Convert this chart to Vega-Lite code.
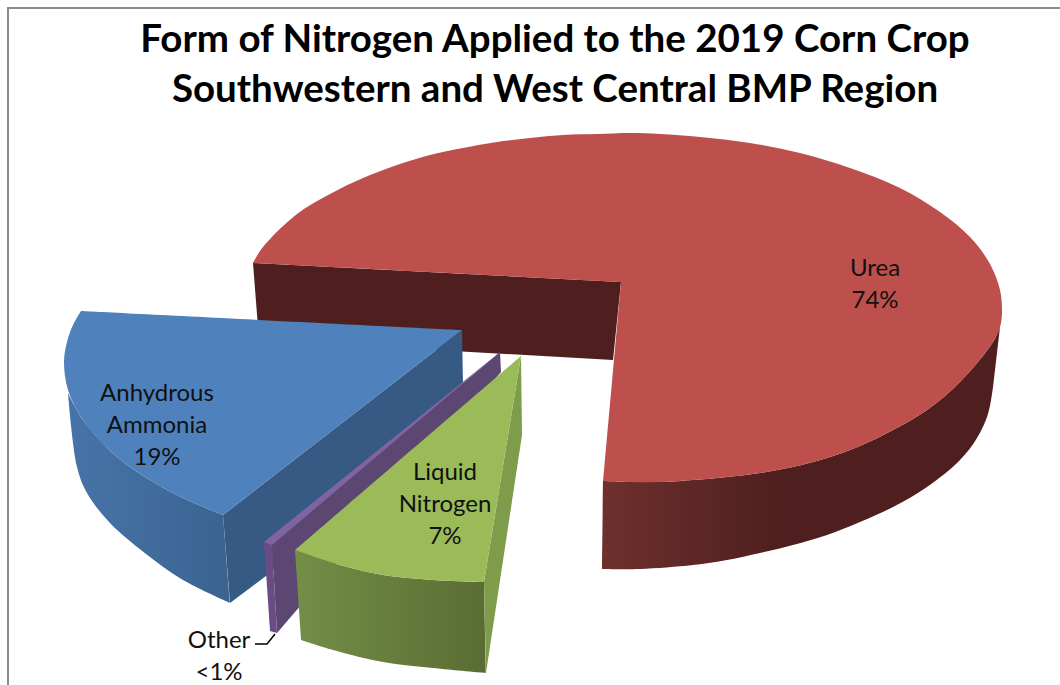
{
"$schema":"https://vega.github.io/schema/vega-lite/v6.json",
"width":1060,"height":685,"padding":0,"autosize":{"type":"none"},
"background":"white",
"view":{"stroke":null},
"title":{"text":["Form of Nitrogen Applied to the 2019 Corn Crop","Southwestern and West Central BMP Region"],"orient":"top","anchor":"middle","dx":25,"offset":-110,"font":"Lato","fontWeight":"bold","fontSize":38.5,"lineHeight":50,"color":"#000000"},
"datasets":{
"outline":[
{"face":"urea_side","i":0,"x":1000,"y":327},{"face":"urea_side","i":0.5,"x":1000,"y":327},{"face":"urea_side","i":1,"x":993,"y":342},{"face":"urea_side","i":2,"x":960,"y":382},{"face":"urea_side","i":3,"x":927,"y":410},{"face":"urea_side","i":4,"x":893,"y":430},{"face":"urea_side","i":5,"x":860,"y":446},{"face":"urea_side","i":6,"x":827,"y":458},{"face":"urea_side","i":7,"x":793,"y":467},{"face":"urea_side","i":8,"x":760,"y":473},{"face":"urea_side","i":9,"x":727,"y":477},{"face":"urea_side","i":10,"x":693,"y":480},{"face":"urea_side","i":11,"x":660,"y":482},{"face":"urea_side","i":12,"x":603,"y":481},{"face":"urea_side","i":12.5,"x":603,"y":481},{"face":"urea_side","i":13,"x":602,"y":569},{"face":"urea_side","i":13.5,"x":602,"y":569},{"face":"urea_side","i":14,"x":640,"y":569},{"face":"urea_side","i":15,"x":693,"y":565},{"face":"urea_side","i":16,"x":727,"y":560},{"face":"urea_side","i":17,"x":760,"y":553},{"face":"urea_side","i":18,"x":793,"y":545},{"face":"urea_side","i":19,"x":827,"y":535},{"face":"urea_side","i":20,"x":860,"y":522},{"face":"urea_side","i":21,"x":893,"y":507},{"face":"urea_side","i":22,"x":927,"y":487},{"face":"urea_side","i":23,"x":960,"y":460},{"face":"urea_side","i":24,"x":977,"y":438},{"face":"urea_side","i":25,"x":988,"y":414},{"face":"urea_side","i":26,"x":993,"y":387},{"face":"urea_side","i":26.5,"x":993,"y":387},
{"face":"urea_wall","i":0,"x":253,"y":263},{"face":"urea_wall","i":1,"x":621,"y":282},{"face":"urea_wall","i":2,"x":613,"y":360},{"face":"urea_wall","i":3,"x":259,"y":340},
{"face":"urea_top","i":0,"x":621,"y":282},{"face":"urea_top","i":0.5,"x":621,"y":282},{"face":"urea_top","i":1,"x":253,"y":263},{"face":"urea_top","i":1.5,"x":253,"y":263},{"face":"urea_top","i":2,"x":263,"y":247},{"face":"urea_top","i":3,"x":297,"y":214},{"face":"urea_top","i":4,"x":330,"y":194},{"face":"urea_top","i":5,"x":363,"y":178},{"face":"urea_top","i":6,"x":397,"y":165},{"face":"urea_top","i":7,"x":430,"y":155},{"face":"urea_top","i":8,"x":463,"y":148},{"face":"urea_top","i":9,"x":497,"y":142},{"face":"urea_top","i":10,"x":530,"y":138},{"face":"urea_top","i":11,"x":563,"y":135},{"face":"urea_top","i":12,"x":597,"y":134},{"face":"urea_top","i":13,"x":630,"y":133},{"face":"urea_top","i":14,"x":660,"y":134},{"face":"urea_top","i":15,"x":700,"y":137},{"face":"urea_top","i":16,"x":750,"y":143},{"face":"urea_top","i":17,"x":800,"y":153},{"face":"urea_top","i":18,"x":850,"y":168},{"face":"urea_top","i":19,"x":900,"y":188},{"face":"urea_top","i":20,"x":940,"y":212},{"face":"urea_top","i":21,"x":970,"y":237},{"face":"urea_top","i":22,"x":990,"y":264},{"face":"urea_top","i":23,"x":1000,"y":290},{"face":"urea_top","i":24,"x":1002,"y":313},{"face":"urea_top","i":25,"x":1000,"y":327},{"face":"urea_top","i":26,"x":993,"y":342},{"face":"urea_top","i":27,"x":960,"y":382},{"face":"urea_top","i":28,"x":927,"y":410},{"face":"urea_top","i":29,"x":893,"y":430},{"face":"urea_top","i":30,"x":860,"y":446},{"face":"urea_top","i":31,"x":827,"y":458},{"face":"urea_top","i":32,"x":793,"y":467},{"face":"urea_top","i":33,"x":760,"y":473},{"face":"urea_top","i":34,"x":727,"y":477},{"face":"urea_top","i":35,"x":693,"y":480},{"face":"urea_top","i":36,"x":660,"y":482},{"face":"urea_top","i":37,"x":630,"y":482},{"face":"urea_top","i":38,"x":603,"y":481},{"face":"urea_top","i":38.5,"x":603,"y":481},
{"face":"anhydrous_side","i":0,"x":68,"y":393},{"face":"anhydrous_side","i":0.5,"x":68,"y":393},{"face":"anhydrous_side","i":1,"x":83,"y":420},{"face":"anhydrous_side","i":2,"x":117,"y":457},{"face":"anhydrous_side","i":3,"x":150,"y":480},{"face":"anhydrous_side","i":4,"x":183,"y":498},{"face":"anhydrous_side","i":5,"x":223,"y":515},{"face":"anhydrous_side","i":5.5,"x":223,"y":515},{"face":"anhydrous_side","i":6,"x":230,"y":603},{"face":"anhydrous_side","i":6.5,"x":230,"y":603},{"face":"anhydrous_side","i":7,"x":183,"y":580},{"face":"anhydrous_side","i":8,"x":150,"y":557},{"face":"anhydrous_side","i":9,"x":110,"y":523},{"face":"anhydrous_side","i":10,"x":87,"y":493},{"face":"anhydrous_side","i":11,"x":77,"y":467},{"face":"anhydrous_side","i":12,"x":68,"y":393},
{"face":"anhydrous_wall","i":0,"x":223,"y":515},{"face":"anhydrous_wall","i":1,"x":462,"y":330},{"face":"anhydrous_wall","i":2,"x":463,"y":385},{"face":"anhydrous_wall","i":3,"x":270,"y":573},{"face":"anhydrous_wall","i":4,"x":230,"y":603},
{"face":"anhydrous_top","i":0,"x":462,"y":330},{"face":"anhydrous_top","i":0.5,"x":462,"y":330},{"face":"anhydrous_top","i":1,"x":81,"y":311},{"face":"anhydrous_top","i":1.5,"x":81,"y":311},{"face":"anhydrous_top","i":2,"x":73,"y":325},{"face":"anhydrous_top","i":3,"x":67,"y":342},{"face":"anhydrous_top","i":4,"x":64,"y":362},{"face":"anhydrous_top","i":5,"x":68,"y":390},{"face":"anhydrous_top","i":6,"x":83,"y":420},{"face":"anhydrous_top","i":7,"x":117,"y":457},{"face":"anhydrous_top","i":8,"x":150,"y":480},{"face":"anhydrous_top","i":9,"x":183,"y":498},{"face":"anhydrous_top","i":10,"x":223,"y":515},{"face":"anhydrous_top","i":10.5,"x":223,"y":515},
{"face":"other_wall","i":0,"x":272,"y":544},{"face":"other_wall","i":1,"x":500,"y":352},{"face":"other_wall","i":2,"x":501,"y":372},{"face":"other_wall","i":3,"x":277,"y":633},
{"face":"other_side","i":0,"x":264,"y":542},{"face":"other_side","i":1,"x":272,"y":544},{"face":"other_side","i":2,"x":277,"y":633},{"face":"other_side","i":3,"x":270,"y":631},
{"face":"other_top","i":0,"x":264,"y":542},{"face":"other_top","i":1,"x":500,"y":352},{"face":"other_top","i":2,"x":272,"y":545},
{"face":"liquid_side","i":0,"x":295,"y":550},{"face":"liquid_side","i":0.5,"x":295,"y":550},{"face":"liquid_side","i":1,"x":333,"y":563},{"face":"liquid_side","i":2,"x":383,"y":575},{"face":"liquid_side","i":3,"x":433,"y":580},{"face":"liquid_side","i":4,"x":484,"y":582},{"face":"liquid_side","i":4.5,"x":484,"y":582},{"face":"liquid_side","i":5,"x":486,"y":673},{"face":"liquid_side","i":5.5,"x":486,"y":673},{"face":"liquid_side","i":6,"x":433,"y":668},{"face":"liquid_side","i":7,"x":383,"y":662},{"face":"liquid_side","i":8,"x":333,"y":650},{"face":"liquid_side","i":9,"x":301,"y":640},{"face":"liquid_side","i":9.5,"x":301,"y":640},
{"face":"liquid_wall","i":0,"x":521,"y":356},{"face":"liquid_wall","i":1,"x":522,"y":435},{"face":"liquid_wall","i":2,"x":486,"y":673},{"face":"liquid_wall","i":3,"x":484,"y":582},
{"face":"liquid_top","i":0,"x":521,"y":356},{"face":"liquid_top","i":0.5,"x":521,"y":356},{"face":"liquid_top","i":1,"x":295,"y":550},{"face":"liquid_top","i":1.5,"x":295,"y":550},{"face":"liquid_top","i":2,"x":333,"y":563},{"face":"liquid_top","i":3,"x":383,"y":575},{"face":"liquid_top","i":4,"x":433,"y":580},{"face":"liquid_top","i":5,"x":484,"y":582},{"face":"liquid_top","i":5.5,"x":484,"y":582}
],
"frame":[{"i":0,"x":1060,"y":8},{"i":1,"x":8,"y":8},{"i":2,"x":8,"y":685}],
"leader":[{"i":0,"x":255,"y":644},{"i":1,"x":267,"y":644},{"i":2,"x":275,"y":634}],
"labels":[
{"form":"Urea","share":74,"text":["Urea","74%"],"x":875,"y":269},
{"form":"Anhydrous Ammonia","share":19,"text":["Anhydrous","Ammonia","19%"],"x":157,"y":394},
{"form":"Liquid Nitrogen","share":7,"text":["Liquid","Nitrogen","7%"],"x":445,"y":473},
{"form":"Other","share":1,"text":["Other","<1%"],"x":219,"y":641}
]
},
"encoding":{
"x":{"field":"x","type":"quantitative","scale":{"domain":[0,1060],"nice":false,"zero":false},"axis":null},
"y":{"field":"y","type":"quantitative","scale":{"domain":[0,685],"nice":false,"zero":false,"reverse":true},"axis":null},
"order":{"field":"i","type":"quantitative"}
},
"layer":[
{"data":{"name":"frame"},"mark":{"type":"line","stroke":"#8c8c8c","strokeWidth":2}},
{"data":{"name":"outline"},"transform":[{"filter":"datum.face=='urea_side'"}],"mark":{"type":"line","interpolate":"catmull-rom","strokeWidth":0,"fill":{"gradient":"linear","x1":0,"y1":0,"x2":1,"y2":0,"stops":[{"offset":0,"color":"#6e302d"},{"offset":0.45,"color":"#4e1f1e"},{"offset":1,"color":"#4e1f1e"}]}}},
{"data":{"name":"outline"},"transform":[{"filter":"datum.face=='urea_wall'"}],"mark":{"type":"line","strokeWidth":0,"fill":"#4e1f1e"}},
{"data":{"name":"outline"},"transform":[{"filter":"datum.face=='urea_top'"}],"mark":{"type":"line","interpolate":"catmull-rom","strokeWidth":0,"fill":"#bd4f4c"}},
{"data":{"name":"outline"},"transform":[{"filter":"datum.face=='anhydrous_side'"}],"mark":{"type":"line","interpolate":"catmull-rom","strokeWidth":0,"fill":{"gradient":"linear","x1":0,"y1":0,"x2":1,"y2":0,"stops":[{"offset":0,"color":"#4774a8"},{"offset":1,"color":"#3a6390"}]}}},
{"data":{"name":"outline"},"transform":[{"filter":"datum.face=='anhydrous_wall'"}],"mark":{"type":"line","strokeWidth":0,"fill":"#375a85"}},
{"data":{"name":"outline"},"transform":[{"filter":"datum.face=='anhydrous_top'"}],"mark":{"type":"line","interpolate":"catmull-rom","strokeWidth":0,"fill":"#4f81bd"}},
{"data":{"name":"outline"},"transform":[{"filter":"datum.face=='other_wall'"}],"mark":{"type":"line","strokeWidth":0,"fill":"#5c4672"}},
{"data":{"name":"outline"},"transform":[{"filter":"datum.face=='other_side'"}],"mark":{"type":"line","strokeWidth":0,"fill":"#6a4c85"}},
{"data":{"name":"outline"},"transform":[{"filter":"datum.face=='other_top'"}],"mark":{"type":"line","strokeWidth":0,"fill":"#8064a2"}},
{"data":{"name":"outline"},"transform":[{"filter":"datum.face=='liquid_side'"}],"mark":{"type":"line","interpolate":"catmull-rom","strokeWidth":0,"fill":{"gradient":"linear","x1":0,"y1":0,"x2":1,"y2":0,"stops":[{"offset":0,"color":"#738f47"},{"offset":1,"color":"#5a6c33"}]}}},
{"data":{"name":"outline"},"transform":[{"filter":"datum.face=='liquid_wall'"}],"mark":{"type":"line","strokeWidth":0,"fill":"#7f9c4a"}},
{"data":{"name":"outline"},"transform":[{"filter":"datum.face=='liquid_top'"}],"mark":{"type":"line","interpolate":"catmull-rom","strokeWidth":0,"fill":"#9bbb59"}},
{"data":{"name":"leader"},"mark":{"type":"line","stroke":"#000000","strokeWidth":1.5}},
{"data":{"name":"labels"},"mark":{"type":"text","font":"Lato","fontSize":24,"lineHeight":32,"align":"center","baseline":"middle","color":"#111111"},"encoding":{"text":{"field":"text"},"order":{"value":null}}}
]
}
